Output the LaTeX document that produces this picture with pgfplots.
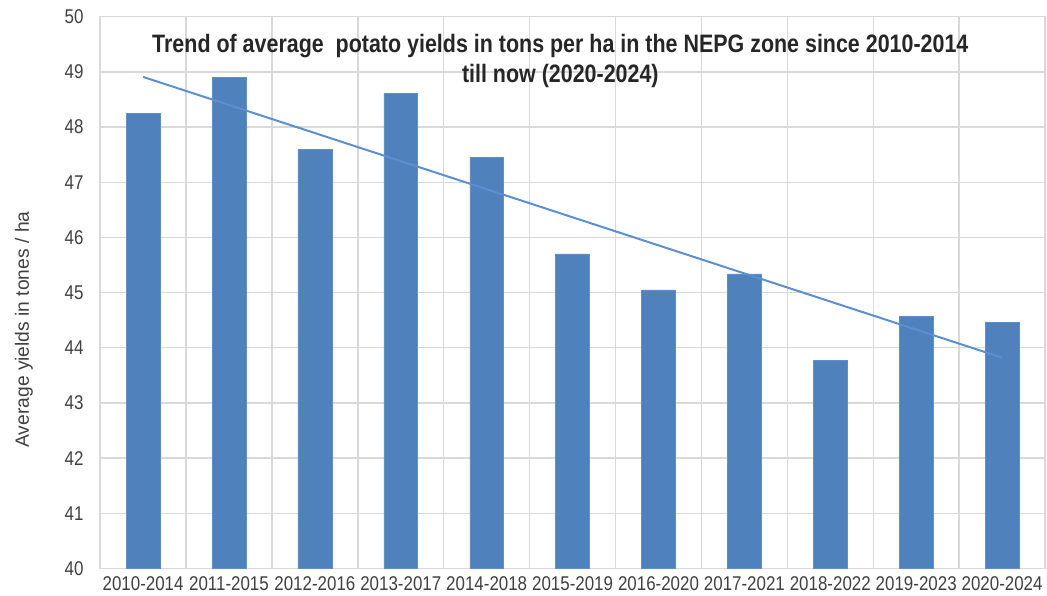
\documentclass[border={8pt 0pt 0pt 4pt}]{standalone}
\usepackage{pgfplots}
\pgfplotsset{compat=1.18}
\usepackage{fontspec}
\setmainfont[FakeStretch=0.85]{Liberation Sans}
\newfontfamily\plainsans{Liberation Sans}
\definecolor{barblue}{HTML}{4F81BD}
\definecolor{trendblue}{HTML}{5B8FD0}
\definecolor{gridgray}{HTML}{D9D9D9}
\definecolor{txt}{HTML}{404040}
\begin{document}
\begin{tikzpicture}
\begin{axis}[
  scale only axis,
  width=711.75pt, height=415.5pt,
  xmin=-0.5, xmax=10.5,
  ymin=40, ymax=50,
  ytick={40,41,...,50},
  xtick={0,...,10},
  xticklabels={2010-2014,2011-2015,2012-2016,2013-2017,2014-2018,2015-2019,2016-2020,2017-2021,2018-2022,2019-2023,2020-2024},
  minor xtick={-0.5,0.5,...,10.5},
  xmajorgrids=false, xminorgrids=true, ymajorgrids=true,
  grid style={gridgray, line width=1pt},
  minor grid style={gridgray, line width=1pt},
  axis line style={gridgray, line width=1pt},
  tick style={draw=none},
  minor tick style={draw=none},
  /pgf/number format/assume math mode=true,
  ticklabel style={font=\fontsize{15pt}{18pt}\selectfont, text=txt},
  yticklabel style={xshift=-9pt},
  xticklabel style={yshift=-3pt},
  ylabel={Average yields in tones / ha},
  ylabel style={font=\plainsans\fontsize{14.5pt}{17pt}\selectfont, text=txt, at={(ticklabel cs:0.433)}, yshift=17pt},
  clip=false,
]
\addplot[ybar, bar width=25.5pt, fill=barblue, draw=barblue!90!white] coordinates {
(0,48.25) (1,48.90) (2,47.59) (3,48.61) (4,47.45) (5,45.70) (6,45.05) (7,45.34) (8,43.77) (9,44.57) (10,44.46)
};
\addplot[trendblue, line width=1.5pt, mark=none] coordinates {(0,48.91) (10,43.82)};
\node[align=center, font=\bfseries\fontsize{19pt}{22pt}\selectfont, text=black!85] at (rel axis cs:0.487,0.92) {Trend of average\ \ potato yields in tons per ha in the NEPG zone since 2010-2014\\till now (2020-2024)};
\end{axis}
\end{tikzpicture}
\end{document}
